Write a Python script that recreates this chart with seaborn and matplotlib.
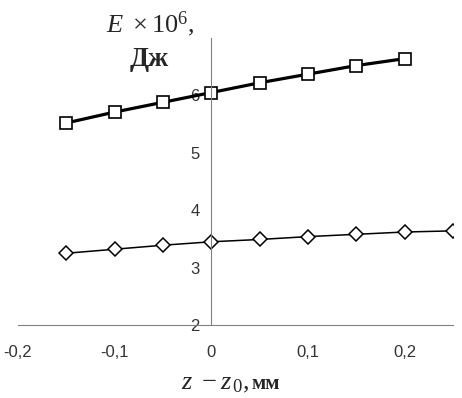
import numpy as np
import pandas as pd
import matplotlib
matplotlib.use("Agg")
import matplotlib.pyplot as plt
import matplotlib.ticker as mticker
import seaborn as sns

# data
z_upper = [-0.15, -0.1, -0.05, 0.0, 0.05, 0.1, 0.15, 0.2]
e_upper = [5.52, 5.71, 5.88, 6.05, 6.22, 6.37, 6.52, 6.64]
z_lower = [-0.15, -0.1, -0.05, 0.0, 0.05, 0.1, 0.15, 0.2, 0.25]
e_lower = [3.25, 3.32, 3.39, 3.45, 3.49, 3.54, 3.58, 3.62, 3.64]
x_ticks = [-0.2, -0.1, 0.0, 0.1, 0.2]
y_ticks = [2, 3, 4, 5, 6, 7]

sns.set_style("white")
plt.rcParams['font.family'] = ['Liberation Sans', 'DejaVu Sans']
plt.rcParams['mathtext.fontset'] = 'custom'
plt.rcParams['mathtext.rm'] = 'Liberation Serif'
plt.rcParams['mathtext.it'] = 'Liberation Serif:italic'
plt.rcParams['mathtext.bf'] = 'Liberation Serif:bold'

upper = pd.DataFrame({'z': z_upper, 'E': e_upper})
lower = pd.DataFrame({'z': z_lower, 'E': e_lower})

fig = plt.figure(figsize=(4.62, 3.98), dpi=100)
ax = fig.add_axes([18/462, (398-325)/398, (453-18)/462, (325-38)/398])

sns.lineplot(data=upper, x='z', y='E', ax=ax, color='black', lw=2.3,
             marker='s', markersize=8, markerfacecolor='white',
             markeredgecolor='black', markeredgewidth=1.2)
sns.lineplot(data=lower, x='z', y='E', ax=ax, color='black', lw=1.1,
             marker='D', markersize=7, markerfacecolor='white',
             markeredgecolor='black', markeredgewidth=1.1)

ax.set_xlim(-0.2, 0.25)
ax.set_ylim(2, 7)
ax.set_xticks(x_ticks)
ax.set_yticks(y_ticks)
ax.xaxis.set_major_formatter(mticker.FuncFormatter(
    lambda v, p: ('%g' % round(v, 2)).replace('.', ',')))
ax.yaxis.set_major_formatter(mticker.FuncFormatter(
    lambda v, p: '' if v == 7 else '%d' % v))

for s in ['top', 'right']:
    ax.spines[s].set_visible(False)
ax.spines['left'].set_position(('data', 0))
ax.spines['left'].set_color('#808080')
ax.spines['bottom'].set_color('#808080')
ax.tick_params(direction='inout', length=9, width=1, color='#808080',
               labelsize=12, labelcolor='#333333')
ax.tick_params(axis='x', pad=10)
ax.tick_params(axis='y', pad=4)
ax.set_xlabel('')
ax.set_ylabel('')

fig.text(0.325, 0.94, r'$E\ \times 10^{6}$,', fontsize=19, ha='center', va='center',
         family='Liberation Serif')
fig.text(0.323, 0.85, 'Дж', fontsize=20, ha='center', va='center',
         family='Liberation Serif', weight='bold')
fig.text(0.545, 0.035, r'$z\ - z_{\,0}$, ', fontsize=19, ha='right', va='center',
         family='Liberation Serif')
fig.text(0.545, 0.035, 'мм', fontsize=15, ha='left', va='center',
         family='Liberation Serif', weight='bold')

fig.savefig('out.png', dpi=100)
